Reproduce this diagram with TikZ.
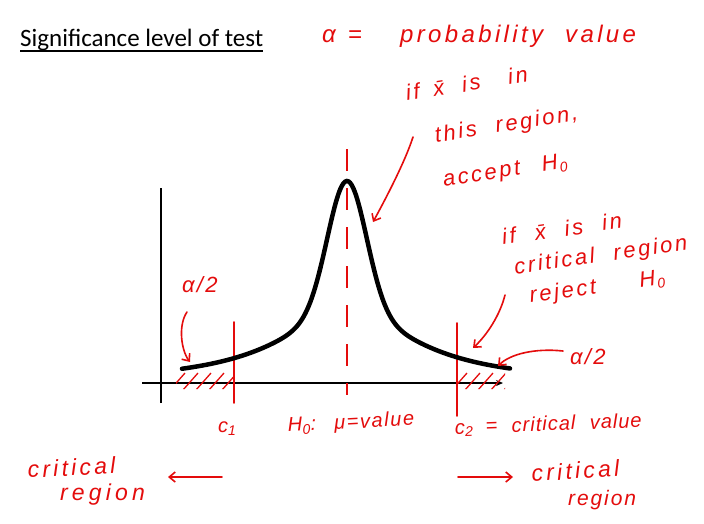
\documentclass[tikz,border=0pt]{standalone}
\usepackage{fontspec}
\setmainfont{Liberation Sans}
\newfontfamily\titlefont{Carlito}
\newfontfamily\handfont{Liberation Sans}[WordSpace=2.2]
\usetikzlibrary{arrows.meta}
\definecolor{ink}{RGB}{228,12,12}
\newcommand{\hw}[2]{\handfont\itshape\fontsize{#1}{#1}\selectfont\addfontfeature{LetterSpace=#2}}
\newcommand{\subz}{\kern1.5pt\raisebox{-4pt}{\fontsize{14}{14}\selectfont 0}}
\begin{document}
\begin{tikzpicture}[x=1pt,y=-1pt,
  hand/.style={text=ink, inner sep=0pt, anchor=base west},
  redline/.style={draw=ink, line width=1.6pt, line cap=round},
  pointer/.style={redline, -{Straight Barb[length=6pt,width=10pt]}},
  hatch/.style={draw=ink, line width=1.3pt},
  axis/.style={draw=black, line width=2pt},
  declare function={f(\x)=383-(130*exp(-((\x-347)/27.2)^2)+72/(1+((\x-347)/82)^2));}
]
\useasboundingbox[fill=white] (0,0) rectangle (704,523);

% title
\node[anchor=base west, inner sep=0pt, font=\titlefont\fontsize{25}{28}\selectfont] (title) at (20,46) {Significance level of test};
\draw[line width=1.1pt] ([yshift=-5pt]title.base west) -- ([yshift=-5pt]title.base east);

% alpha definition
\node[hand, font=\hw{24}{20}] (alpha) at (322,42) {α\hspace{12pt}=};
\node[hand, font=\hw{24}{14}] (prob) at (400,42) {probability value};

% axes
\coordinate (yb) at (161,403); \coordinate (yt) at (161,188);
\coordinate (xl) at (142,383); \coordinate (xr) at (503,383);
\draw[axis] (yb) -- (yt);
\draw[axis, -{Stealth[length=7pt,width=6pt]}] (xl) -- (xr);

% dashed centre line
\coordinate (mt) at (347,149); \coordinate (mb) at (347,395);
\draw[redline, line cap=butt, dash pattern=on 22pt off 17pt] (mt) -- (mb);

% hatching
\begin{scope}
\clip plot[domain=176:234,samples=40] (\x,{f(\x)}) -- (234,389) -- (176,389) -- cycle;
\foreach \s in {170,183,...,240} \draw[hatch] (\s,390) -- ++(15,-17);
\end{scope}
\begin{scope}
\clip plot[domain=457:505,samples=40] (\x,{f(\x)}) -- (505,389) -- (457,389) -- cycle;
\foreach \s in {452,465,...,510} \draw[hatch] (\s,390) -- ++(15,-17);
\end{scope}

% critical value lines
\coordinate (c1t) at (234,322); \coordinate (c1b) at (234,403);
\coordinate (c2t) at (457,323); \coordinate (c2b) at (457,416);
\draw[redline] (c1t) -- (c1b);
\draw[redline] (c2t) -- (c2b);

% curve
\draw[line width=4.5pt, line cap=round] plot[domain=182:510,samples=200,smooth] (\x,{f(\x)});

% upper middle note
\node[hand, rotate=9, font=\hw{22}{12}] (acc) at (407,101)
  {\begin{tabular}[t]{@{}l@{}}if\hspace{14pt}\={x}\hspace{18pt}is\hspace{28pt}in\\[23pt]
   \hspace{22pt}this region,\\[23pt]
   \hspace{23pt}accept\hspace{22pt}H\subz\end{tabular}};
\coordinate (a1s) at (413,137); \coordinate (a1e) at (373,222);
\draw[pointer] (a1s) .. controls (405,162) and (385,200) .. (a1e);

% right note
\node[hand, rotate=8, font=\hw{22}{12}] (rej) at (503,245)
  {\begin{tabular}[t]{@{}l@{}}if \={x} is in\\[8pt]
   \hspace{8pt}critical region\\[8pt]
   \hspace{19pt}reject\hspace{44pt}H\subz\end{tabular}};
\coordinate (a2s) at (505,295); \coordinate (a2e) at (473,348);
\draw[pointer] (a2s) .. controls (500,315) and (487,335) .. (a2e);

% alpha/2 labels
\node[hand, font=\hw{22}{10}] (hl) at (182,292) {α/2};
\coordinate (a3s) at (187,312); \coordinate (a3e) at (190,362);
\draw[pointer] (a3s) .. controls (178,325) and (181,350) .. (a3e);
\node[hand, font=\hw{22}{10}] (hr) at (570,364) {α/2};
\coordinate (a4s) at (563,351); \coordinate (a4e) at (498,366);
\draw[pointer] (a4s) .. controls (535,348) and (510,354) .. (a4e);

% bottom labels
\node[hand, font=\hw{20}{8}] (c1) at (218,432) {c\textsubscript{1}};
\node[hand, rotate=3, font=\hw{20}{8}] (h0) at (288,432) {H\textsubscript{0}: μ=value};
\node[hand, rotate=2, font=\hw{20}{5}] (c2) at (455,434) {c\textsubscript{2}\hspace{-2pt} = critical value};

\node[hand, rotate=3, font=\hw{23}{14}] (crl1) at (28,478) {critical};
\node[hand, font=\hw{23}{18}] (crl2) at (60,500) {region};
\node[hand, rotate=4, font=\hw{23}{14}] (crr1) at (532,482) {critical};
\node[hand, font=\hw{21}{9}] (crr2) at (568,505) {region};

\coordinate (a5s) at (222,477); \coordinate (a5e) at (168,477);
\draw[pointer] (a5s) -- (a5e);
\coordinate (a6s) at (458,477); \coordinate (a6e) at (513,477);
\draw[pointer] (a6s) -- (a6e);
\end{tikzpicture}
\end{document}
